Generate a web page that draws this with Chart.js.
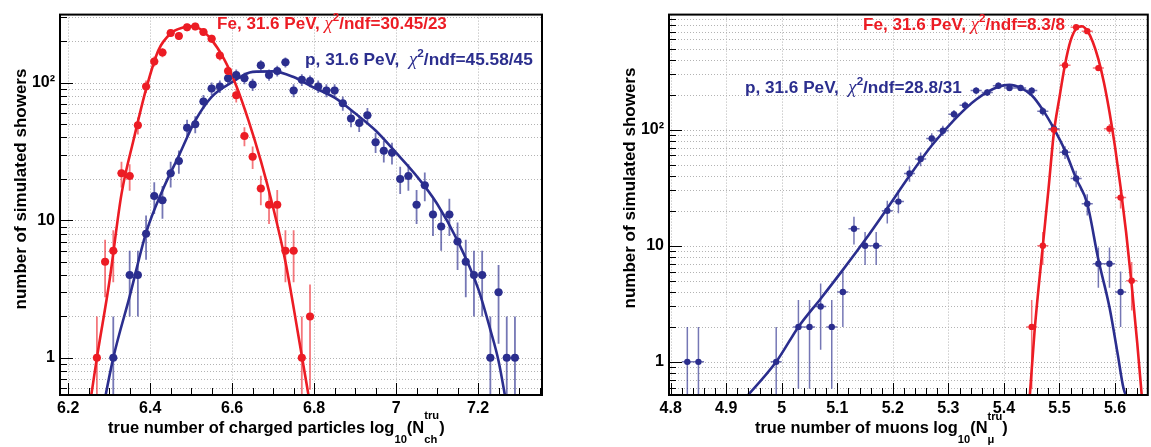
<!DOCTYPE html>
<html>
<head>
<meta charset="utf-8">
<script src="https://cdn.jsdelivr.net/npm/chart.js@4.4.1/dist/chart.umd.min.js"></script>
<style>
  html, body { margin: 0; padding: 0; background: #fff; }
  #wrap { position: relative; width: 1151px; height: 447px; }
  canvas { position: absolute; top: 0; }
  #left { left: 0; }
  #right { left: 576px; }
</style>
</head>
<body>
<div id="wrap">
  <canvas id="left" width="575" height="447"></canvas>
  <canvas id="right" width="575" height="447"></canvas>
</div>
<script>
// ---------- left panel: charged particles ----------
const chFeX = [6.27, 6.29, 6.31, 6.33, 6.35, 6.37, 6.39, 6.41, 6.43, 6.45, 6.47, 6.49, 6.51, 6.53,
  6.55, 6.57, 6.59, 6.61, 6.63, 6.65, 6.67, 6.69, 6.71, 6.73, 6.75, 6.77, 6.79];
const chFeN = [1, 5, 6, 22, 21, 49, 94, 143, 166, 230, 219, 253, 257, 234,
  209, 158, 122, 81, 41, 29, 17, 13, 13, 6, 6, 1, 2];

const chPX = [6.31, 6.35, 6.37, 6.39, 6.41, 6.43, 6.45, 6.47, 6.49, 6.51, 6.53, 6.55, 6.57, 6.59,
  6.61, 6.63, 6.65, 6.67, 6.69, 6.71, 6.73, 6.75, 6.77, 6.79, 6.81, 6.83, 6.85, 6.87, 6.89, 6.91,
  6.93, 6.95, 6.97, 6.99, 7.01, 7.03, 7.05, 7.07, 7.09, 7.11, 7.13, 7.15, 7.17, 7.19, 7.21, 7.23,
  7.25, 7.27, 7.29];
const chPN = [1, 4, 4, 8, 15, 14, 22, 27, 47, 50, 73, 91, 94, 108,
  114, 108, 97, 134, 114, 122, 141, 88, 105, 103, 94, 88, 88, 71, 55, 51,
  58, 37, 32, 31, 20, 21, 13, 18, 11, 9, 11, 7, 5, 4, 4, 1,
  3, 1, 1];

// fitted curves
const chFeFitX = [6.25, 6.27, 6.30, 6.33, 6.36, 6.39, 6.42, 6.45, 6.48, 6.50, 6.52, 6.55, 6.58,
  6.61, 6.64, 6.67, 6.70, 6.73, 6.76, 6.79];
const chFeFitY = [0.40, 1.0, 3.5, 15.5, 39, 90, 172, 228, 252, 257, 248, 205, 149,
  95, 53, 27, 12.4, 5.0, 1.55, 0.46];
const chPFitX = [6.28, 6.31, 6.35, 6.39, 6.43, 6.47, 6.51, 6.55, 6.60, 6.65, 6.70, 6.75, 6.80,
  6.85, 6.90, 6.95, 7.00, 7.05, 7.10, 7.15, 7.20, 7.23, 7.25, 7.27];
const chPFitY = [0.36, 1.0, 2.8, 8.1, 16.5, 29.5, 53, 79, 101, 120, 121, 110, 92,
  78, 60, 45, 31, 21, 13.2, 7.1, 3.2, 1.6, 0.95, 0.45];

const chXTicks = [6.2, 6.4, 6.6, 6.8, 7, 7.2];
const chYTicks = [0.6, 0.7, 0.8, 0.9, 1, 2, 3, 4, 5, 6, 7, 8, 9, 10, 20, 30, 40, 50, 60, 70, 80, 90,
  100, 200, 300];

// ---------- right panel: muons ----------
const muFeX = [5.45, 5.47, 5.49, 5.51, 5.53, 5.55, 5.57, 5.59, 5.61, 5.63];
const muFeN = [2, 10, 100, 359, 762, 706, 339, 102, 26, 5];

const muPX = [4.83, 4.85, 4.99, 5.03, 5.05, 5.07, 5.09, 5.11, 5.13, 5.15, 5.17, 5.19, 5.21, 5.23,
  5.25, 5.27, 5.29, 5.31, 5.33, 5.35, 5.37, 5.39, 5.41, 5.43, 5.45, 5.47, 5.49, 5.51, 5.53, 5.55,
  5.57, 5.59, 5.61];
const muPN = [1, 1, 1, 2, 2, 3, 2, 4, 14, 10, 10, 20, 24, 42,
  56, 84, 98, 136, 162, 217, 209, 239, 229, 229, 217, 144, 102, 64, 38, 23,
  7, 7, 4];

const muFeFitX = [5.445, 5.455, 5.47, 5.48, 5.49, 5.50, 5.51, 5.52, 5.53, 5.54, 5.55, 5.56, 5.57,
  5.58, 5.59, 5.60, 5.61, 5.62, 5.63, 5.64, 5.65];
const muFeFitY = [0.4, 1.8, 10, 30, 95, 190, 365, 585, 740, 778, 711, 570, 405,
  255, 142, 71, 32, 13, 4.6, 1.45, 0.4];
const muPFitX = [4.93, 4.99, 5.03, 5.07, 5.11, 5.15, 5.19, 5.23, 5.27, 5.31, 5.35, 5.39, 5.41,
  5.43, 5.45, 5.47, 5.49, 5.51, 5.53, 5.55, 5.57, 5.59, 5.605, 5.615, 5.625];
const muPFitY = [0.46, 1.0, 2.0, 3.5, 6.2, 11.2, 21, 40, 73, 121, 182, 234, 243,
  229, 198, 148, 102, 66, 38, 23, 7.6, 2.95, 1.15, 0.6, 0.45];

const muXTicks = [4.8, 4.9, 5, 5.1, 5.2, 5.3, 5.4, 5.5, 5.6];
const muYTicks = [0.6, 0.7, 0.8, 0.9, 1, 2, 3, 4, 5, 6, 7, 8, 9, 10, 20, 30, 40, 50, 60, 70, 80, 90,
  100, 200, 300, 400, 500, 600, 700, 800, 900];

const yLabels = { 1: '1', 10: '10', 100: '10\u00b2' };

// ---------- styles ----------
const RED = '#ec1c24';
const BLUE = '#2b2e8e';
const SANS = '"Liberation Sans", Arial, Helvetica, sans-serif';
const SERIF = '"Liberation Serif", "Times New Roman", serif';
const HALF_BIN = 0.01;

// text decorations per canvas (pixel positions inside each canvas)
const deco = {
  left: {
    minorStep: 0.05, dot: 4, barWidth: 1.8,
    labels: [
      { color: RED, x0: 217, x1: 447, y: 29,
        parts: [{ k: 'n', t: 'Fe, 31.6 PeV, ' }, { k: 'chi', t: '\u03c7' }, { k: 'sup', t: '2' }, { k: 'n', t: '/ndf=30.45/23' }] },
      { color: BLUE, x0: 305, x1: 533, y: 65,
        parts: [{ k: 'n', t: 'p, 31.6 PeV,  ' }, { k: 'chi', t: '\u03c7' }, { k: 'sup', t: '2' }, { k: 'n', t: '/ndf=45.58/45' }] }
    ],
    xTitle: { x0: 108, x1: 445, y: 433,
      parts: [{ k: 'n', t: 'true number of charged particles log' }, { k: 'sub', t: '10' }, { k: 'n', t: '(N' },
              { k: 'stack', top: 'tru', bot: 'ch' }, { k: 'n', t: ')' }] },
    yTitle: { x: 21, yc: 189, size: 17 }
  },
  right: {
    minorStep: 0.02, dot: 3.2, barWidth: 1.5,
    labels: [
      { color: RED, x0: 287, x1: 489, y: 30,
        parts: [{ k: 'n', t: 'Fe, 31.6 PeV, ' }, { k: 'chi', t: '\u03c7' }, { k: 'sup', t: '2' }, { k: 'n', t: '/ndf=8.3/8' }] },
      { color: BLUE, x0: 169, x1: 386, y: 93,
        parts: [{ k: 'n', t: 'p, 31.6 PeV,  ' }, { k: 'chi', t: '\u03c7' }, { k: 'sup', t: '2' }, { k: 'n', t: '/ndf=28.8/31' }] }
    ],
    xTitle: { x0: 179, x1: 432, y: 433,
      parts: [{ k: 'n', t: 'true number of muons log' }, { k: 'sub', t: '10' }, { k: 'n', t: '(N' },
              { k: 'stack', top: 'tru', bot: '\u03bc' }, { k: 'n', t: ')' }] },
    yTitle: { x: 54, yc: 188, size: 17 }
  }
};

// ---------- rich text helpers ----------
function partFont(k, s) {
  if (k === 'chi') return `italic ${s * 1.1}px ${SERIF}`;
  if (k === 'n') return `bold ${s}px ${SANS}`;
  return `bold ${s * 0.68}px ${SANS}`;
}

function partWidths(ctx, parts, s) {
  return parts.map(p => {
    if (p.k === 'stack') {
      ctx.font = partFont('sup', s);
      return Math.max(ctx.measureText(p.top).width, ctx.measureText(p.bot).width);
    }
    ctx.font = partFont(p.k, s);
    return ctx.measureText(p.t).width;
  });
}

function drawRich(ctx, item, color) {
  // pick the font size that gives the width seen in the reference
  const w100 = partWidths(ctx, item.parts, 100).reduce((a, b) => a + b, 0);
  const s = 100 * (item.x1 - item.x0) / w100;
  const widths = partWidths(ctx, item.parts, s);
  let cx = item.x0;
  ctx.fillStyle = color;
  ctx.textAlign = 'left';
  ctx.textBaseline = 'alphabetic';
  item.parts.forEach((p, i) => {
    if (p.k === 'stack') {
      ctx.font = partFont('sup', s);
      ctx.fillText(p.top, cx, item.y - s * 0.82);
      ctx.fillText(p.bot, cx, item.y + s * 0.62);
    } else {
      ctx.font = partFont(p.k, s);
      const dy = p.k === 'sup' ? -s * 0.45 : (p.k === 'sub' ? s * 0.6 : 0);
      ctx.fillText(p.t, cx, item.y + dy);
    }
    cx += widths[i];
  });
}

// grid, error bars, frame, ticks and texts
const rootStyle = {
  id: 'rootStyle',
  beforeDatasetsDraw(chart) {
    const d = deco[chart.canvas.id];
    const { ctx, chartArea: a, scales: { x, y } } = chart;
    ctx.save();
    // dotted grid
    ctx.strokeStyle = '#b3b3b3';
    ctx.lineWidth = 1;
    ctx.setLineDash([1, 2]);
    ctx.beginPath();
    x.ticks.forEach(t => {
      const p = Math.round(x.getPixelForValue(t.value)) + 0.5;
      ctx.moveTo(p, a.top); ctx.lineTo(p, a.bottom);
    });
    y.ticks.forEach(t => {
      const p = Math.round(y.getPixelForValue(t.value)) + 0.5;
      ctx.moveTo(a.left, p); ctx.lineTo(a.right, p);
    });
    ctx.stroke();
    ctx.setLineDash([]);

    // error bars: sqrt(N) vertically, bin width horizontally
    ctx.beginPath();
    ctx.rect(a.left, a.top, a.width, a.height);
    ctx.clip();
    chart.data.datasets.forEach(ds => {
      if (!ds.errBars) return;
      ctx.strokeStyle = ds.barColor;
      ctx.lineWidth = d.barWidth;
      ctx.beginPath();
      ds.data.forEach(pt => {
        const e = Math.sqrt(pt.y);
        const px = x.getPixelForValue(pt.x);
        const py = y.getPixelForValue(pt.y);
        const top = y.getPixelForValue(pt.y + e);
        const bot = pt.y - e > 0 ? y.getPixelForValue(pt.y - e) : a.bottom + 2;
        ctx.moveTo(px, top); ctx.lineTo(px, bot);
        ctx.moveTo(x.getPixelForValue(pt.x - HALF_BIN), py);
        ctx.lineTo(x.getPixelForValue(pt.x + HALF_BIN), py);
      });
      ctx.stroke();
    });
    ctx.restore();
  },
  afterDatasetsDraw(chart) {
    const d = deco[chart.canvas.id];
    const { ctx, chartArea: a, scales: { x, y } } = chart;
    ctx.save();
    ctx.strokeStyle = '#000';
    ctx.lineWidth = 1;
    ctx.beginPath();
    // y ticks (inward)
    y.ticks.forEach(t => {
      const p = Math.round(y.getPixelForValue(t.value)) + 0.5;
      const major = yLabels[t.value] !== undefined;
      ctx.moveTo(a.left, p); ctx.lineTo(a.left + (major ? 13 : 7), p);
    });
    // x ticks, major and minor
    x.ticks.forEach(t => {
      const p = Math.round(x.getPixelForValue(t.value)) + 0.5;
      ctx.moveTo(p, a.bottom); ctx.lineTo(p, a.bottom - 12);
    });
    for (let v = Math.ceil(x.min / d.minorStep) * d.minorStep; v < x.max; v += d.minorStep) {
      const p = Math.round(x.getPixelForValue(v)) + 0.5;
      ctx.moveTo(p, a.bottom); ctx.lineTo(p, a.bottom - 7);
    }
    ctx.stroke();
    // frame
    ctx.lineWidth = 2;
    ctx.strokeRect(a.left, a.top, a.width, a.height);

    // texts
    d.labels.forEach(l => drawRich(ctx, l, l.color));
    drawRich(ctx, d.xTitle, '#000');
    ctx.save();
    ctx.translate(d.yTitle.x, d.yTitle.yc);
    ctx.rotate(-Math.PI / 2);
    ctx.font = `bold ${d.yTitle.size}px ${SANS}`;
    ctx.fillStyle = '#000';
    ctx.textAlign = 'center';
    ctx.textBaseline = 'middle';
    ctx.fillText('number of simulated showers', 0, 0);
    ctx.restore();
    ctx.restore();
  }
};

function pointsSet(xs, ns, color, barColor, r) {
  return {
    data: xs.map((v, i) => ({ x: v, y: ns[i] })),
    backgroundColor: color, borderColor: color, borderWidth: 0,
    pointRadius: r, pointHoverRadius: r, showLine: false,
    errBars: true, barColor: barColor
  };
}

function fitSet(xs, ys, color) {
  return {
    data: xs.map((v, i) => ({ x: v, y: ys[i] })),
    borderColor: color, borderWidth: 2.6, pointRadius: 0, pointHoverRadius: 0,
    showLine: true, fill: false, cubicInterpolationMode: 'monotone'
  };
}

function makePanel(id, o) {
  const tickFont = { family: SANS, size: 16, weight: 'bold' };
  new Chart(document.getElementById(id), {
    type: 'scatter',
    data: {
      datasets: [
        pointsSet(o.feX, o.feN, RED, 'rgba(236,28,36,0.6)', deco[id].dot),
        pointsSet(o.pX, o.pN, BLUE, 'rgba(43,46,142,0.65)', deco[id].dot),
        fitSet(o.feFitX, o.feFitY, RED),
        fitSet(o.pFitX, o.pFitY, BLUE)
      ]
    },
    options: {
      responsive: false,
      animation: false,
      events: [],
      layout: { padding: { top: 5, right: o.padRight, left: 0, bottom: 0 } },
      plugins: { legend: { display: false }, tooltip: { enabled: false } },
      scales: {
        x: {
          type: 'linear', min: o.xMin, max: o.xMax,
          afterBuildTicks: s => { s.ticks = o.xTicks.map(v => ({ value: v })); },
          afterFit: s => { s.height = 52; },
          grid: { display: false, drawTicks: false },
          border: { display: false },
          ticks: { autoSkip: false, maxRotation: 0, padding: 4, color: '#000', font: tickFont,
                    callback: v => String(v) }
        },
        y: {
          type: 'logarithmic', min: o.yMin, max: o.yMax,
          afterBuildTicks: s => { s.ticks = o.yTicks.map(v => ({ value: v })); },
          afterFit: s => { s.width = o.yWidth; },
          grid: { display: false, drawTicks: false },
          border: { display: false },
          ticks: { autoSkip: false, padding: 5, color: '#000', font: tickFont,
                    callback: v => yLabels[v] || '' }
        }
      }
    },
    plugins: [rootStyle]
  });
}

makePanel('left', {
  feX: chFeX, feN: chFeN, pX: chPX, pN: chPN,
  feFitX: chFeFitX, feFitY: chFeFitY, pFitX: chPFitX, pFitY: chPFitY,
  xTicks: chXTicks, yTicks: chYTicks,
  xMin: 6.18, xMax: 7.356, yMin: 0.537, yMax: 313, yWidth: 60, padRight: 33
});

makePanel('right', {
  feX: muFeX, feN: muFeN, pX: muPX, pN: muPN,
  feFitX: muFeFitX, feFitY: muFeFitY, pFitX: muPFitX, pFitY: muPFitY,
  xTicks: muXTicks, yTicks: muYTicks,
  xMin: 4.797, xMax: 5.659, yMin: 0.518, yMax: 980, yWidth: 93, padRight: 2
});
</script>
</body>
</html>
